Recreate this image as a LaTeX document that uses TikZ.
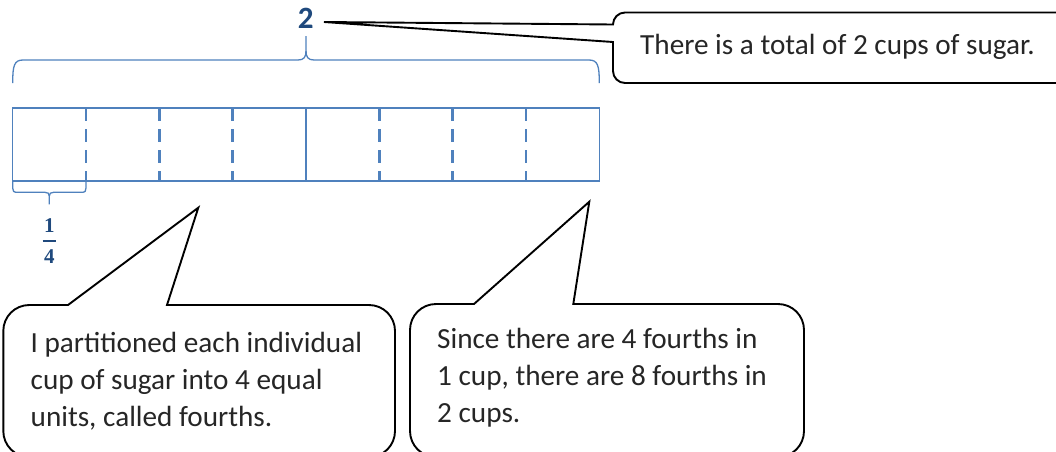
\documentclass[tikz,border=0pt]{standalone}
\usepackage{fontspec}
\newfontfamily\calibri{Carlito}
\newfontfamily\fracserif{Liberation Serif}
\usetikzlibrary{calc}
\definecolor{tapeblue}{HTML}{4F81BD}
\definecolor{labelblue}{HTML}{1F497D}
\definecolor{inkgray}{HTML}{262626}
\begin{document}
\begin{tikzpicture}[x=1pt,y=-1pt,
  tapeline/.style={draw=tapeblue, line width=1.3pt},
  fourthline/.style={draw=tapeblue, line width=2.8pt, dash pattern=on 13pt off 8pt},
  bracepath/.style={draw=tapeblue, line width=1.3pt},
  callout/.style={draw=black, line width=1.9pt, line join=miter, fill=white},
  calltext/.style={font=\calibri\fontsize{29.2}{37}\selectfont, text=inkgray,
    inner sep=0pt, align=left, anchor=base west},
  numlabel/.style={text=labelblue, inner sep=0pt, anchor=base}]
\useasboundingbox (0,0) rectangle (1056,451);
\clip (0,0) rectangle (1056,451);

% tape of two cups, each cut into fourths
\coordinate (tapeNW) at (12.7,108);
\coordinate (tapeSE) at (599.3,181);
\draw[tapeline] (tapeNW) rectangle (tapeSE);
\foreach \i in {1,2,3,5,6,7}
  \draw[fourthline] ($(tapeNW)+(\i*73.325,0)$) -- ++(0,73);
\draw[tapeline] ($(tapeNW)+(4*73.325,0)$) -- ++(0,73);

% brace over the whole tape
\draw[bracepath] (12.7,83) .. controls (12.7,66) and (14,60) .. (23,60)
  -- (298,60) .. controls (304,60) and (306,57) .. (306,51) -- (306,36);
\draw[bracepath] (306,51) .. controls (306,57) and (308,60) .. (314,60)
  -- (589,60) .. controls (598,60) and (599.3,66) .. (599.3,83);

% brace under the first fourth
\draw[bracepath] (12.7,181) -- (12.7,188) .. controls (12.7,191) and (13.5,192.3) .. (17,192.3)
  -- (45,192.3) .. controls (48,192.3) and (49.3,193.5) .. (49.3,196) -- (49.3,204.3);
\draw[bracepath] (49.3,196) .. controls (49.3,193.5) and (50.6,192.3) .. (53.6,192.3)
  -- (82,192.3) .. controls (85.2,192.3) and (86,191) .. (86,188) -- (86,181);

% labels
\node[numlabel, font=\calibri\bfseries\fontsize{31}{37}\selectfont] (total) at (305.7,28.3) {2};
\node[numlabel, font=\fracserif\bfseries\fontsize{21}{26}\selectfont] (quarter) at (49.3,263)
  {\vbox{\hbox to 13.5pt{\hss 1\hss}\kern 7.6pt\hrule height 2pt\kern 7.4pt
         \hbox to 13.5pt{\hss 4\hss}}};

% callout tips
\coordinate (totaltip) at (324,22);
\coordinate (partip) at (198.3,207.7);
\coordinate (sincetip) at (589.3,201.7);

% callout: total
\draw[callout] (613,42) -- (totaltip) -- (613,24.5)
  .. controls (613,17.9) and (618.4,12.5) .. (625,12.5) -- (1070,12.5) -- (1070,83)
  -- (625,83) .. controls (618.4,83) and (613,77.6) .. (613,71) -- cycle;
\node[calltext] (totaltext) at (640,54) {There is a total of 2 cups of sugar.};

% callout: partition
\draw[callout] (68,305) -- (partip) -- (167,305) -- (369,305)
  .. controls (383.4,305) and (395,316.6) .. (395,331) -- (395,431)
  .. controls (395,445.4) and (383.4,457) .. (369,457) -- (29.3,457)
  .. controls (14.9,457) and (3.3,445.4) .. (3.3,431) -- (3.3,331)
  .. controls (3.3,316.6) and (14.9,305) .. (29.3,305) -- cycle;
\node[calltext] (partext) at (30.5,426.7)
  {I partitioned each individual\\cup of sugar into 4 equal\\units, called fourths.};

% callout: counting fourths
\draw[callout] (474,304) -- (sincetip) -- (573.3,304) -- (778,304)
  .. controls (792.4,304) and (804,315.6) .. (804,330) -- (804,431)
  .. controls (804,445.4) and (792.4,457) .. (778,457) -- (436,457)
  .. controls (421.6,457) and (410,445.4) .. (410,431) -- (410,330)
  .. controls (410,315.6) and (421.6,304) .. (436,304) -- cycle;
\node[calltext] (sincetext) at (437,422)
  {Since there are 4 fourths in\\1 cup, there are 8 fourths in\\2 cups.};
\end{tikzpicture}
\end{document}
